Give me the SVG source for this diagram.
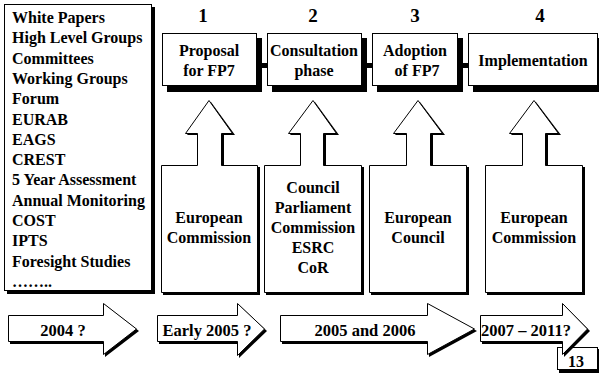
<svg xmlns="http://www.w3.org/2000/svg" width="599" height="375" viewBox="0 0 599 375" font-family="Liberation Serif, DejaVu Serif, serif" font-weight="bold">
<style>
.t{font-size:16px}
.c{text-anchor:middle}
.n{font-size:19px;text-anchor:middle}
.b{font-size:16.5px;text-anchor:middle}
.sh{fill:#000;stroke:none}
.w{fill:#fff;stroke:#000;stroke-width:1}
</style>
<rect width="599" height="375" fill="#fff"/>
<g id="list">
<rect class="sh" x="7" y="7" width="148" height="287"/>
<rect class="w" x="4.5" y="4.5" width="147" height="286"/>
<text class="t" x="12" y="23">White Papers</text>
<text class="t" x="12" y="43.3">High Level Groups</text>
<text class="t" x="12" y="63.6">Committees</text>
<text class="t" x="12" y="83.9">Working Groups</text>
<text class="t" x="12" y="104.2">Forum</text>
<text class="t" x="12" y="124.5">EURAB</text>
<text class="t" x="12" y="144.8">EAGS</text>
<text class="t" x="12" y="165.1">CREST</text>
<text class="t" x="12" y="185.4">5 Year Assessment</text>
<text class="t" x="12" y="205.7">Annual Monitoring</text>
<text class="t" x="12" y="226">COST</text>
<text class="t" x="12" y="246.3">IPTS</text>
<text class="t" x="12" y="266.6">Foresight Studies</text>
<text class="t" x="12" y="286.9">……..</text>
</g>
<g id="connectors">
<rect class="sh" x="257" y="63" width="10" height="5"/>
<rect class="sh" x="362" y="63" width="10" height="5"/>
<rect class="sh" x="458" y="63" width="10" height="5"/>
</g>
<g id="numbers">
<text class="n" x="203" y="22">1</text>
<text class="n" x="313" y="22">2</text>
<text class="n" x="415" y="22">3</text>
<text class="n" x="540" y="22">4</text>
</g>
<g id="step1">
<rect class="sh" x="167" y="38" width="95" height="54"/>
<rect class="w" x="162.5" y="33.5" width="94" height="52"/>
<text class="t c" x="209" y="56">Proposal</text>
<text class="t c" x="209" y="76">for FP7</text>
</g>
<g id="step2">
<rect class="sh" x="272" y="38" width="95" height="54"/>
<rect class="w" x="267.5" y="33.5" width="94" height="52"/>
<text class="t c" x="314" y="56">Consultation</text>
<text class="t c" x="314" y="76">phase</text>
</g>
<g id="step3">
<rect class="sh" x="377" y="38" width="86" height="54"/>
<rect class="w" x="372.5" y="33.5" width="85" height="52"/>
<text class="t c" x="415" y="56">Adoption</text>
<text class="t c" x="417" y="76">of FP7</text>
</g>
<g id="step4">
<rect class="sh" x="473" y="38" width="130" height="54"/>
<rect class="w" x="468.5" y="33.5" width="129" height="52"/>
<text class="t c" x="533" y="66">Implementation</text>
</g>
<g id="actor1">
<path class="sh" transform="translate(2,2)" d="M161,165 H197 V133 H185 L209,100 L233,133 H222 V165 H258 V293 H161 Z"/>
<path class="w" d="M161.5,165.5 H197.5 V133.5 H185.5 L209,100.5 L232.5,133.5 H221.5 V165.5 H257.5 V292.5 H161.5 Z"/>
<text class="t c" x="209" y="223">European</text>
<text class="t c" x="209" y="243">Commission</text>
</g>
<g id="actor2">
<path class="sh" transform="translate(2,2)" d="M264,165 H300 V133 H288 L313,100 L337,133 H324 V165 H362 V293 H264 Z"/>
<path class="w" d="M264.5,165.5 H300.5 V133.5 H288.5 L313,100.5 L336.5,133.5 H323.5 V165.5 H361.5 V292.5 H264.5 Z"/>
<text class="t c" x="313" y="193">Council</text>
<text class="t c" x="313" y="213">Parliament</text>
<text class="t c" x="313" y="233">Commission</text>
<text class="t c" x="313" y="253">ESRC</text>
<text class="t c" x="313" y="273">CoR</text>
</g>
<g id="actor3">
<path class="sh" transform="translate(2,2)" d="M369,165 H406 V133 H393 L418,100 L443,133 H431 V165 H467 V293 H369 Z"/>
<path class="w" d="M369.5,165.5 H406.5 V133.5 H393.5 L418,100.5 L442.5,133.5 H430.5 V165.5 H466.5 V292.5 H369.5 Z"/>
<text class="t c" x="418" y="223">European</text>
<text class="t c" x="418" y="243">Council</text>
</g>
<g id="actor4">
<path class="sh" transform="translate(2,2)" d="M485,165 H522 V133 H509 L534,100 L559,133 H546 V165 H583 V293 H485 Z"/>
<path class="w" d="M485.5,165.5 H522.5 V133.5 H509.5 L534,100.5 L558.5,133.5 H545.5 V165.5 H582.5 V292.5 H485.5 Z"/>
<text class="t c" x="534" y="223">European</text>
<text class="t c" x="534" y="243">Commission</text>
</g>
<g id="page">
<rect class="sh" x="559" y="349" width="42" height="24"/>
<rect class="w" x="557.5" y="347.5" width="40" height="22"/>
<text class="t" x="568" y="367">13</text>
</g>
<g id="time1">
<path class="sh" transform="translate(2,2)" d="M8,315 H103 V303 L137,329 L103,355 V342 H8 Z"/>
<path class="w" d="M8.5,315.5 H103.5 V303.5 L136.5,329 L103.5,354.5 V341.5 H8.5 Z"/>
<text class="b" x="63" y="336">2004 ?</text>
</g>
<g id="time2">
<path class="sh" transform="translate(2,2)" d="M157,315 H237 V303 L265,329 L237,356 V342 H157 Z"/>
<path class="w" d="M157.5,315.5 H237.5 V303.5 L264.5,329 L237.5,355.5 V341.5 H157.5 Z"/>
<text class="b" x="207" y="336">Early 2005 ?</text>
</g>
<g id="time3">
<path class="sh" transform="translate(2,2)" d="M280,315 H427 V303 L475,329 L427,355 V342 H280 Z"/>
<path class="w" d="M280.5,315.5 H427.5 V303.5 L474.5,329 L427.5,354.5 V341.5 H280.5 Z"/>
<text class="b" x="365" y="336">2005 and 2006</text>
</g>
<g id="time4">
<path class="sh" transform="translate(2,2)" d="M480,315 H562 V303 L588,329 L562,355 V342 H480 Z"/>
<path class="w" d="M480.5,315.5 H562.5 V303.5 L587.5,329 L562.5,354.5 V341.5 H480.5 Z"/>
<text class="b" x="526" y="336">2007 – 2011?</text>
</g>
</svg>
